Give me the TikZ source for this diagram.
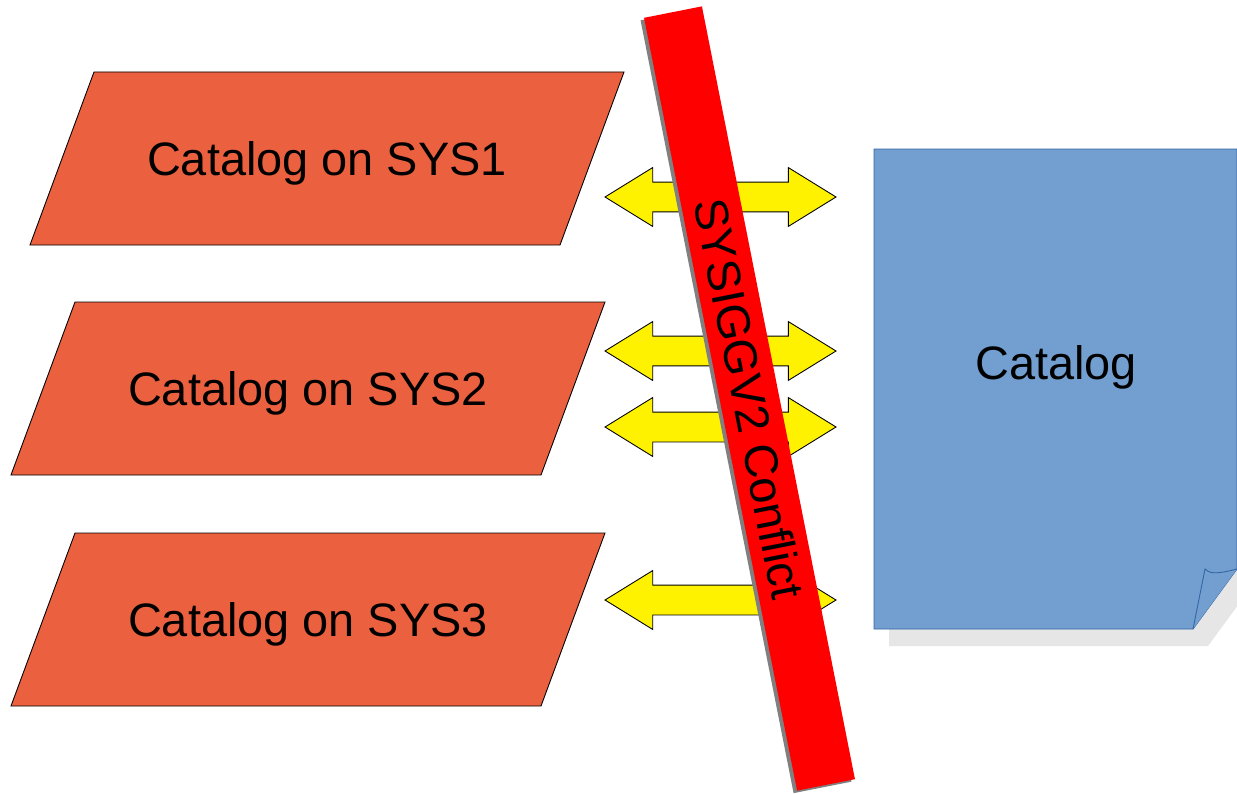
\documentclass[tikz,border=0pt]{standalone}
\usepackage{fontspec}
\setmainfont{Liberation Sans}
\usetikzlibrary{shapes.arrows,shadows}
\definecolor{sysred}{HTML}{EB613F}
\definecolor{pageblue}{HTML}{729FCF}
\definecolor{pageedge}{HTML}{3465A4}
\definecolor{pageshade}{HTML}{E6E6E6}
\newcommand\catfont{\fontsize{26.7}{32}\selectfont}
\tikzset{
  sysfill/.style={fill=sysred,draw=black,line width=0.5pt},
  captext/.style={font=\catfont,inner sep=0pt,text height=19.1pt,text depth=0pt},
  link/.style={double arrow,double arrow head extend=0.29cm,double arrow tip angle=63.4,
    minimum height=4.62cm,inner xsep=0pt,inner ysep=0.29cm,
    fill=yellow,draw=black,line width=0.5pt},
  conflictbar/.style={captext,rectangle,rotate=-78.8,minimum width=15.76cm,minimum height=1.18cm,
    fill=red,drop shadow={shadow xshift=-0.07cm,shadow yshift=-0.05cm,opacity=1,fill=gray}}
}
\begin{document}
\begin{tikzpicture}[x=0.02cm,y=-0.02cm]
  \useasboundingbox (0,0) rectangle (1237,794);
  % systems
  \foreach \n/\x/\y in {1/327/158.5,2/308/388.5,3/308/619.5}
  {
    \filldraw[sysfill] (\x-233,\y-86.5) -- ++(530,0) -- ++(-64,173) -- ++(-530,0) -- cycle;
    \node[captext] (sys\n) at (\x,\y) {Catalog on SYS\n};
  }
  % links to the catalog
  \foreach \n/\y in {1/197,2/351,3/427,4/600}
  {
    \node[link] (link\n) at (720.5,\y) {};
  }
  % catalog page
  \fill[pageshade] (889,166) -- (1252,166) -- (1252,586) -- (1208,646) -- (889,646) -- cycle;
  \draw[pageedge,fill=pageblue,line width=0.5pt] (874,149) -- (1237,149) -- (1237,569)
    -- (1193,629) -- (874,629) -- cycle;
  \draw[pageedge,fill=pageblue,line width=0.5pt] (1193,629) -- (1205,569)
    .. controls (1209,573) and (1214,575) .. (1237,569);
  \node[captext] (catalog) at (1056,363) {Catalog};
  % conflict
  \node[conflictbar] (conflict) at (749.5,398.5) {SYSIGGV2 Conflict};
\end{tikzpicture}
\end{document}
